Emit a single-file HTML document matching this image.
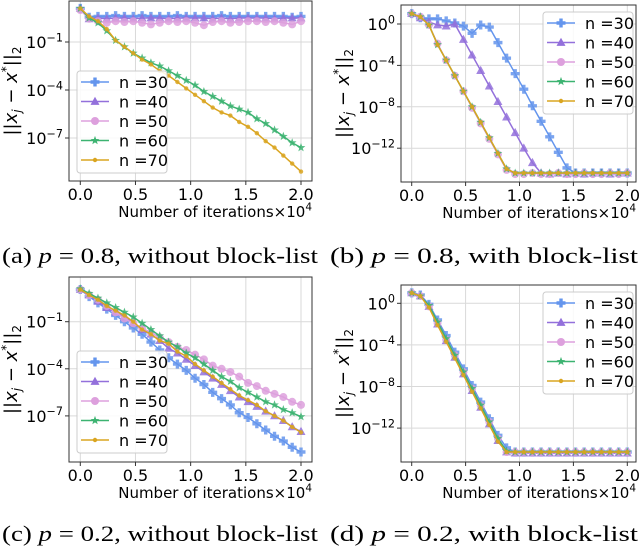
<!DOCTYPE html>
<html><head><meta charset="utf-8"><style>
html,body{margin:0;padding:0;background:#fff;width:640px;height:549px;overflow:hidden}
svg{display:block}
</style></head><body>
<svg id="fig" width="640" height="549" viewBox="0 0 640 549" xmlns="http://www.w3.org/2000/svg" font-family="'DejaVu Sans', 'Liberation Sans', sans-serif"></svg>
<script>
// ---- data (x in units of 10^4 iterations, values are log10 of error) ----
const xVals = [0,0.08,0.16,0.24,0.32,0.4,0.48,0.56,0.64,0.72,0.8,0.88,0.96,1.04,1.12,1.2,1.28,1.36,1.44,1.52,1.6,1.68,1.76,1.84,1.92,2.0];
const seriesNames = ["n =30","n =40","n =50","n =60","n =70"];
const xTickLabels = ["0.0","0.5","1.0","1.5","2.0"];
const xTickValues = [0,0.5,1.0,1.5,2.0];
const yTicksAC = [-1,-4,-7];
const yTicksBD = [0,-4,-8,-12];

const a30 = [1.1,0.55,0.6,0.6,0.65,0.6,0.6,0.65,0.6,0.6,0.6,0.65,0.6,0.6,0.6,0.6,0.65,0.6,0.6,0.6,0.6,0.6,0.6,0.6,0.55,0.6];
const a40 = [1.1,0.45,0.5,0.45,0.5,0.5,0.45,0.5,0.5,0.5,0.45,0.5,0.5,0.5,0.5,0.45,0.5,0.45,0.5,0.5,0.5,0.5,0.45,0.5,0.5,0.5];
const a50 = [1.0,0.45,0.3,0.2,0.3,0.25,0.3,0.2,0.1,0.2,0.3,0.25,0.3,0.2,0.05,0.25,0.3,0.2,0.25,0.3,0.3,0.25,0.3,0.2,0.1,0.3];
const a60 = [1.1,0.5,0.2,-0.3,-0.9,-1.3,-1.7,-2.0,-2.3,-2.5,-2.8,-3.1,-3.4,-3.7,-4.1,-4.4,-4.7,-5.0,-5.2,-5.4,-5.8,-6.1,-6.5,-6.9,-7.3,-7.6];
const a70 = [1.1,0.6,0.3,-0.2,-0.9,-1.3,-1.7,-2.1,-2.4,-2.8,-3.1,-3.5,-3.9,-4.3,-4.7,-5.1,-5.4,-5.6,-6.0,-6.3,-6.7,-7.2,-7.6,-8.1,-8.6,-9.1];

const b30 = [1.0,0.6,0.5,0.5,0.3,0.1,-0.2,-0.9,-0.1,-0.3,-1.8,-3.3,-4.8,-6.3,-7.9,-9.4,-10.9,-12.4,-13.9,-14.4,-14.4,-14.4,-14.4,-14.4,-14.4,-14.4];
const b40 = [1.0,0.6,0.2,-0.1,-0.2,0.0,-1.5,-3.0,-4.5,-6.0,-7.5,-9.0,-10.5,-12.0,-13.4,-14.4,-14.5,-14.4,-14.5,-14.4,-14.5,-14.4,-14.4,-14.5,-14.4,-14.4];
const b50 = [1.0,0.7,-0.1,-1.9,-3.5,-5.0,-6.5,-8.1,-9.6,-11.1,-12.6,-14.1,-14.5,-14.5,-14.4,-14.5,-14.5,-14.4,-14.5,-14.5,-14.4,-14.5,-14.5,-14.4,-14.5,-14.4];
const b60 = [1.0,0.7,-0.1,-2.0,-3.5,-5.0,-6.5,-8.0,-9.5,-11.0,-12.5,-14.0,-14.4,-14.4,-14.4,-14.4,-14.4,-14.4,-14.4,-14.4,-14.4,-14.4,-14.4,-14.4,-14.4,-14.4];
const b70 = [1.0,0.7,-0.1,-2.0,-3.5,-5.0,-6.5,-8.0,-9.5,-11.0,-12.5,-14.0,-14.4,-14.4,-14.4,-14.4,-14.4,-14.4,-14.4,-14.4,-14.4,-14.4,-14.4,-14.4,-14.4,-14.4];

const c30 = [1.05,0.6,0.2,-0.2,-0.6,-1.0,-1.4,-1.8,-2.3,-2.8,-3.3,-3.7,-4.1,-4.6,-5.0,-5.5,-5.9,-6.3,-6.8,-7.1,-7.5,-7.9,-8.3,-8.6,-9.0,-9.3];
const c40 = [1.05,0.7,0.3,-0.1,-0.4,-0.7,-1.1,-1.5,-1.8,-2.2,-2.7,-3.0,-3.4,-3.8,-4.2,-4.6,-5.0,-5.4,-5.8,-6.1,-6.4,-6.7,-7.0,-7.3,-7.7,-8.0];
const c50 = [1.05,0.7,0.4,0.0,-0.4,-0.8,-1.1,-1.4,-1.7,-2.0,-2.3,-2.6,-2.8,-3.1,-3.4,-3.8,-4.0,-4.2,-4.5,-4.9,-5.1,-5.4,-5.6,-5.8,-6.1,-6.3];
const c60 = [1.1,0.8,0.5,0.2,-0.1,-0.4,-0.7,-1.1,-1.5,-1.9,-2.3,-2.6,-3.0,-3.3,-3.7,-4.1,-4.5,-4.8,-5.2,-5.5,-5.8,-6.1,-6.3,-6.6,-6.8,-7.05];
const c70 = [1.05,0.7,0.4,0.0,-0.3,-0.6,-1.0,-1.5,-1.8,-2.2,-2.4,-2.9,-3.2,-3.7,-4.1,-4.5,-4.9,-5.3,-5.7,-6.0,-6.3,-6.7,-7.0,-7.3,-7.7,-8.05];

const d30 = [1.0,0.8,-0.1,-1.6,-3.1,-4.7,-6.3,-7.9,-9.5,-11.1,-12.7,-13.9,-14.3,-14.3,-14.3,-14.3,-14.3,-14.3,-14.3,-14.3,-14.3,-14.3,-14.3,-14.3,-14.3,-14.3];
const d40 = [1.0,0.7,-0.3,-2.0,-3.6,-5.2,-6.8,-8.4,-10.0,-11.6,-13.2,-14.3,-14.4,-14.4,-14.4,-14.4,-14.4,-14.4,-14.4,-14.4,-14.4,-14.4,-14.4,-14.4,-14.4,-14.4];
const d50 = [1.0,0.7,-0.3,-1.9,-3.5,-5.0,-6.6,-8.2,-9.8,-11.4,-13.0,-14.3,-14.3,-14.3,-14.3,-14.3,-14.3,-14.3,-14.3,-14.3,-14.3,-14.3,-14.3,-14.3,-14.3,-14.3];
const d60 = [1.0,0.7,-0.2,-1.8,-3.4,-5.0,-6.6,-8.2,-9.8,-11.4,-13.0,-14.2,-14.3,-14.3,-14.3,-14.3,-14.3,-14.3,-14.3,-14.3,-14.3,-14.3,-14.3,-14.3,-14.3,-14.3];
const d70 = [1.0,0.7,-0.4,-2.1,-3.7,-5.3,-6.9,-8.5,-10.1,-11.7,-13.3,-14.3,-14.3,-14.3,-14.3,-14.3,-14.3,-14.3,-14.3,-14.3,-14.3,-14.3,-14.3,-14.3,-14.3,-14.3];

const colors = ["#6495ed","#9370db","#dda0dd","#3cb371","#daa520"];
const markers = ["plus","tri","circ","star","dot"];
const NS = "http://www.w3.org/2000/svg";
const fig = document.getElementById("fig");

function mk(tag, attrs, parent){
  const e = document.createElementNS(NS, tag);
  for (const k in attrs) e.setAttribute(k, attrs[k]);
  (parent||fig).appendChild(e);
  return e;
}

function marker(type, cx, cy, color, g){
  let e;
  if (type==="circ"){ e = mk("circle",{cx:cx,cy:cy,r:4,fill:color},g); }
  else if (type==="dot"){ e = mk("circle",{cx:cx,cy:cy,r:2.2,fill:color},g); }
  else if (type==="tri"){ e = mk("polygon",{points:`${cx},${cy-4.8} ${cx-4.5},${cy+3.4} ${cx+4.5},${cy+3.4}`,fill:color},g); }
  else if (type==="plus"){ const a=4.5,b=1.7; e = mk("polygon",{points:`${cx-b},${cy-a} ${cx+b},${cy-a} ${cx+b},${cy-b} ${cx+a},${cy-b} ${cx+a},${cy+b} ${cx+b},${cy+b} ${cx+b},${cy+a} ${cx-b},${cy+a} ${cx-b},${cy+b} ${cx-a},${cy+b} ${cx-a},${cy-b} ${cx-b},${cy-b}`,fill:color},g); }
  else { let p=[]; for(let i=0;i<10;i++){const r=i%2?1.9:4.6; const ang=-Math.PI/2+i*Math.PI/5; p.push((cx+r*Math.cos(ang)).toFixed(2)+","+(cy+r*Math.sin(ang)).toFixed(2));} e = mk("polygon",{points:p.join(" "),fill:color},g); }
  
  
  return e;
}

function supText(parent, x, y, base, sup, anchor, size){
  const t = mk("text",{x:x,y:y,"text-anchor":anchor,"font-size":size,fill:"#000"},parent);
  t.appendChild(document.createTextNode(base));
  const s = mk("tspan",{dy:-size*0.42,"font-size":size*0.7},t);
  s.textContent = sup;
  return t;
}

function panel(P){
  const g = mk("g",{});
  
  
  const px = v => P.x0 + v/2*(P.x2 - P.x0);
  const py = v => P.yRef + (P.ref - v)*P.dec;
  xTickValues.forEach(v=>{
    const l = mk("line",{x1:px(v),x2:px(v),y1:P.top,y2:P.bot,stroke:"#d9d9d9","stroke-width":1},g);
    
    
  });
  P.yt.forEach(v=>{
    const l = mk("line",{x1:P.left,x2:P.right,y1:py(v),y2:py(v),stroke:"#d9d9d9","stroke-width":1},g);
    
    
  });
  P.series.forEach((s,si)=>{
    const sg = mk("g",{},g);
    
    
    const pts = s.map((v,i)=>px(xVals[i]).toFixed(2)+","+py(v).toFixed(2)).join(" ");
    const pl = mk("polyline",{points:pts,fill:"none",stroke:colors[si],"stroke-width":1.5},sg);
    
    
    const mg = mk("g",{opacity:0.85},sg);
    s.forEach((v,i)=>marker(markers[si], px(xVals[i]), py(v), colors[si], mg));
  });
  const fr = mk("rect",{x:P.left,y:P.top,width:P.right-P.left,height:P.bot-P.top,fill:"none",stroke:"#333","stroke-width":1},g);
  
  
  xTickValues.forEach((v,i)=>{
    const tk = mk("line",{x1:px(v),x2:px(v),y1:P.bot,y2:P.bot+4,stroke:"#333"},g);
    
    
    const t = mk("text",{x:px(v),y:P.bot+19,"text-anchor":"middle","font-size":16,fill:"#000"},g);
    t.textContent = xTickLabels[i];
    
    
  });
  P.yt.forEach(v=>{
    const tk = mk("line",{x1:P.left-4,x2:P.left,y1:py(v),y2:py(v),stroke:"#333"},g);
    
    
    const t = supText(g, P.left-6, py(v)+6, "10", (v<0?"\u2212"+(-v):String(v)), "end", 16);
    
    
  });
  const xl = supText(g, P.right, P.bot+36, "Number of iterations\u00d710", "4", "end", 15);
  
  
  const yl = mk("text",{x:0,y:0,"text-anchor":"middle","font-size":18,fill:"#000",transform:`translate(${P.left-52},${(P.top+P.bot)/2}) rotate(-90)`},g);
  yl.innerHTML = '||<tspan font-style="italic">x</tspan><tspan font-size="12" dy="4" font-style="italic">j</tspan><tspan dy="-4"> \u2212 </tspan><tspan font-style="italic">x</tspan><tspan font-size="12" dy="-7">*</tspan><tspan dy="7">||</tspan><tspan font-size="12" dy="4">2</tspan>';
  
  
  const lg = mk("g",{},g);
  
  
  const lb = mk("rect",{x:P.lx,y:P.ly,width:90,height:102,rx:3,fill:"#fff","fill-opacity":0.85,stroke:"#ccc"},lg);
  
  
  seriesNames.forEach((n,i)=>{
    const eg = mk("g",{},lg);
    
    
    const cy = P.ly + 11 + i*19.5;
    mk("line",{x1:P.lx+4,x2:P.lx+32,y1:cy,y2:cy,stroke:colors[i],"stroke-width":1.5},eg);
    marker(markers[i], P.lx+18, cy, colors[i], eg);
    const t = mk("text",{x:P.lx+42,y:cy+6,"font-size":16,fill:"#000"},eg);
    t.textContent = n;
  });
}

panel({name:"panel-a",left:69,right:312,top:1,bot:181,x0:80.3,x2:301,yRef:42,ref:-1,dec:16,yt:yTicksAC,series:[a30,a40,a50,a60,a70],lx:77,ly:71});
panel({name:"panel-b",left:401,right:636,top:5,bot:182,x0:411.7,x2:627.3,yRef:24,ref:0,dec:10.35,yt:yTicksBD,series:[b30,b40,b50,b60,b70],lx:543,ly:12});
panel({name:"panel-c",left:69,right:312,top:277,bot:462,x0:80.3,x2:301,yRef:321.7,ref:-1,dec:15.7,yt:yTicksAC,series:[c30,c40,c50,c60,c70],lx:77,ly:351});
panel({name:"panel-d",left:401,right:636,top:285,bot:462,x0:411.7,x2:627.3,yRef:303.3,ref:0,dec:10.4,yt:yTicksBD,series:[d30,d40,d50,d60,d70],lx:543,ly:292});

const caps = [
  {x:2,y:263,l:"(a)",v:"0.8",r:"without block-list",w:316},
  {x:330,y:263,l:"(b)",v:"0.8",r:"with block-list",w:308},
  {x:2,y:541,l:"(c)",v:"0.2",r:"without block-list",w:316},
  {x:330,y:541,l:"(d)",v:"0.2",r:"with block-list",w:308}
];
caps.forEach(c=>{
  const t = mk("text",{x:c.x,y:c.y,"font-size":22,"font-family":"'Liberation Serif', serif",fill:"#000",textLength:c.w,lengthAdjust:"spacingAndGlyphs"});
  t.innerHTML = c.l+' <tspan font-style="italic">p</tspan> = '+c.v+', '+c.r;
  
  
});
</script>
</body></html>
